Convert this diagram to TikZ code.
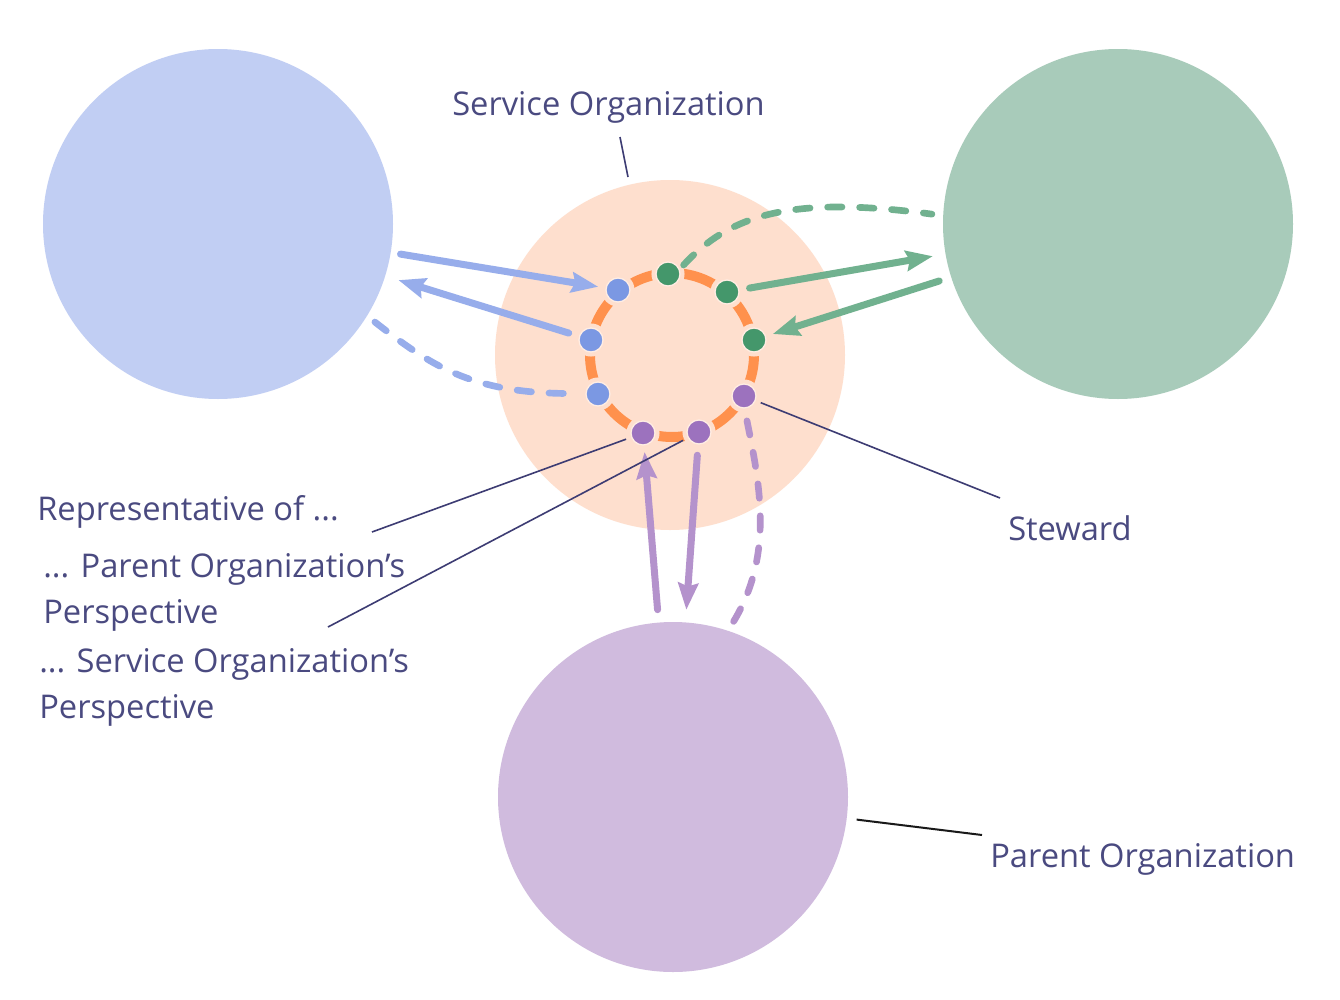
\documentclass[tikz,border=0pt]{standalone}
\usepackage{fontspec}
\setmainfont{Open Sans}
\usetikzlibrary{arrows.meta}
\definecolor{bluebig}{HTML}{C1CEF3}
\definecolor{greenbig}{HTML}{A8CBBA}
\definecolor{purplebig}{HTML}{D0BBDE}
\definecolor{peach}{HTML}{FEDFCE}
\definecolor{halolight}{HTML}{FFEDE3}
\definecolor{ringor}{HTML}{FF914D}
\definecolor{bluedot}{HTML}{7B98E3}
\definecolor{greendot}{HTML}{44976B}
\definecolor{purpledot}{HTML}{9C72BE}
\definecolor{bluearr}{HTML}{97ADEB}
\definecolor{greenarr}{HTML}{71B18F}
\definecolor{purplearr}{HTML}{B492CC}
\definecolor{textcol}{HTML}{4A4A80}
\definecolor{leader}{HTML}{3D3C73}
\begin{document}
\begin{tikzpicture}[x=0.75pt,y=-0.75pt,
  bigc/.style={circle, inner sep=0pt, minimum size=262.5pt, outer sep=7.5pt},
  dotn/.style={circle, inner sep=0pt, minimum size=18pt, outer sep=4.5pt, draw=halolight, line width=1pt},
  halo/.style={fill=peach},
  arr/.style={line width=5.25pt, line cap=round, -{Stealth[length=20pt,width=15pt,inset=2.5pt]}},
  dsh/.style={line width=5pt, line cap=round, dash pattern=on 10.8pt off 13.2pt},
  lbl/.style={anchor=base west, inner sep=0pt, text=textcol, font=\fontsize{24.5pt}{30pt}\selectfont},
  lead/.style={draw=leader, line width=1.2pt}
]
\useasboundingbox[fill=white] (0,0) rectangle (1340,1000);

% big circles
\node[bigc, fill=bluebig] (B) at (218,224) {};
\node[bigc, fill=greenbig] (G) at (1118,224) {};
\node[bigc, fill=purplebig] (P) at (673,797) {};
\node[bigc, fill=peach] (S) at (670,355) {};

% orange ring
\node[circle, draw=ringor, line width=7.5pt, minimum size=123pt, inner sep=0pt] (ring) at (672,355) {};

% dots with halos
\foreach \n/\x/\y/\c in {b1/618/290/bluedot, b2/591/340/bluedot, b3/598/394/bluedot,
  g1/668/274/greendot, g2/727/292/greendot, g3/754/340/greendot,
  p3/744/396/purpledot, p1/643/433/purpledot, p2/699/432/purpledot}{
  \fill[halo] (\x,\y) circle[radius=12.4pt];
  \node[dotn, fill=\c] (\n) at (\x,\y) {};
}

% blue connectors
\draw[arr, draw=bluearr, shorten >=1.5pt] (B) -- (b1);
\draw[arr, draw=bluearr, shorten <=4pt, shorten >=3pt] (b2) -- (B);
\draw[dsh, draw=bluearr, shorten >=12.4pt] (B.-32) .. controls (430,365) and (470,392) .. (b3);

% green connectors
\draw[arr, draw=greenarr, shorten <=3.7pt, shorten >=2.25pt] (g2) -- (G);
\draw[arr, draw=greenarr, shorten <=2pt, shorten >=1.3pt] (G) -- (g3);
\draw[dsh, draw=greenarr, shorten >=1pt] (g1.30) .. controls (730,215) and (790,195) .. (G.177);

% purple connectors
\draw[arr, draw=purplearr, shorten <=2.25pt, shorten >=0.75pt] (P) -- (p1);
\draw[arr, draw=purplearr, shorten <=4pt, shorten >=2pt] (p2) -- (P);
\draw[dsh, draw=purplearr, shorten <=5.3pt] (p3.-85) .. controls (760,485) and (774,555) .. (P.71);

% labels
\node[lbl] (svc) at (452,115) {Service Organization};
\node[lbl] (rep) at (37,520) {Representative of ...};
\node[lbl] (pop1) at (43,577) {... Parent Organization’s};
\node[lbl] (pop2) at (43,623) {Perspective};
\node[lbl] (sop1) at (39,672) {... Service Organization’s};
\node[lbl] (sop2) at (39,718) {Perspective};
\node[lbl] (stw) at (1008,540) {Steward};
\node[lbl] (par) at (990,867) {Parent Organization};

% leader lines
\coordinate (svcA) at (620,137);
\coordinate (svcB) at (628,177);
\coordinate (repA) at (372,532);
\coordinate (sopA) at (328,627);
\coordinate (stwA) at (1000,498);
\coordinate (parA) at (982,835);
\draw[lead] (svcA) -- (svcB);
\draw[lead] (repA) -- (p1);
\draw[lead] (sopA) -- (p2);
\draw[lead] (p3) -- (stwA);
\draw[line width=1.5pt, draw=black!90] (P) -- (parA);
\end{tikzpicture}
\end{document}
